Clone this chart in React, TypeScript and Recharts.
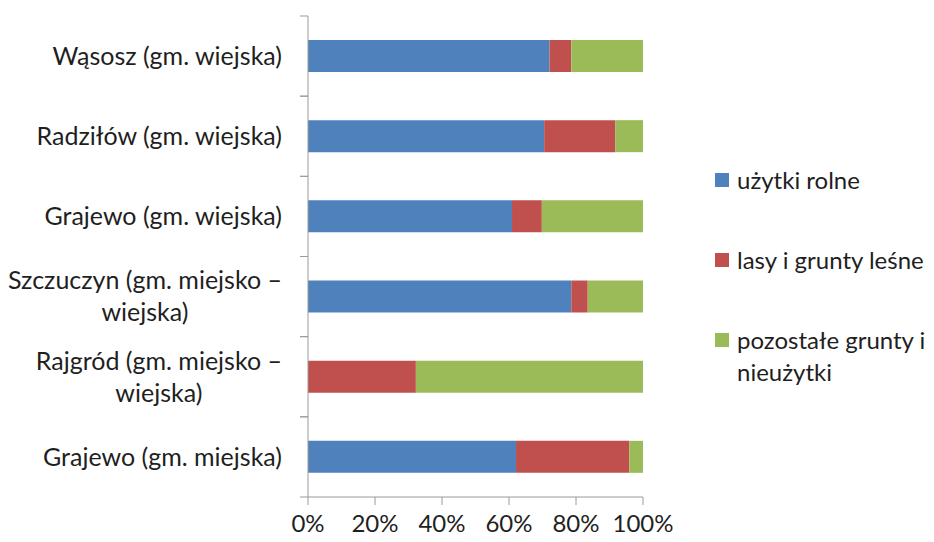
import React from 'react';
import { BarChart, Bar, XAxis, YAxis } from 'recharts';

const categories = [
  'Wąsosz (gm. wiejska)',
  'Radziłów (gm. wiejska)',
  'Grajewo (gm. wiejska)',
  'Szczuczyn (gm. miejsko – wiejska)',
  'Rajgród (gm. miejsko – wiejska)',
  'Grajewo (gm. miejska)',
];
const uzytkiRolne = [72.1, 70.5, 60.9, 78.6, 0, 62.1];
const lasy = [6.5, 21.2, 8.9, 4.9, 32.2, 33.8];
const pozostale = [21.4, 8.3, 30.2, 16.5, 67.8, 4.1];
const xTicks = [0, 0.2, 0.4, 0.6, 0.8, 1];

const series = [
  { key: 'uzytki', name: 'użytki rolne', color: '#4F81BD' },
  { key: 'lasy', name: 'lasy i grunty leśne', color: '#C0504D' },
  { key: 'pozostale', name: 'pozostałe grunty i nieużytki', color: '#9BBB59' },
];

const data = categories.map((name, i) => ({
  name,
  uzytki: uzytkiRolne[i],
  lasy: lasy[i],
  pozostale: pozostale[i],
}));

const FONT = 'Lato, "Open Sans", sans-serif';
const FONT_SIZE = 25;
const W = 926;
const H = 534;
const MARGIN = { top: 8, right: 291, bottom: 0, left: 0 };
const Y_WIDTH = 300;
const X_HEIGHT = 45;
const AXIS_X = MARGIN.left + Y_WIDTH;
const BAND = (H - MARGIN.top - MARGIN.bottom - X_HEIGHT) / categories.length;
const AXIS_COLOR = '#9a9a9a';
const TEXT_COLOR = '#1f1f1f';

let ctx: CanvasRenderingContext2D | null = null;
const measure = (s: string) => {
  if (!ctx) ctx = document.createElement('canvas').getContext('2d');
  if (!ctx) return s.length * FONT_SIZE * 0.45;
  ctx.font = `${FONT_SIZE}px Lato`;
  return ctx.measureText(s).width;
};

const wrap = (text: string, maxW: number) => {
  const words = text.split(' ');
  const lines: string[] = [];
  let cur = '';
  words.forEach(w => {
    const next = cur ? cur + ' ' + w : w;
    if (cur && measure(next) > maxW) {
      lines.push(cur);
      cur = w;
    } else {
      cur = next;
    }
  });
  if (cur) lines.push(cur);
  return lines;
};

const YTick = (props: any) => {
  const { y, payload } = props;
  const lines = wrap(payload.value, 288);
  const right = AXIS_X - 26;
  const lh = 32;
  const widest = Math.max(...lines.map(measure));
  const single = lines.length === 1;
  return (
    <g>
      <line x1={AXIS_X - 8} x2={AXIS_X} y1={y - BAND / 2} y2={y - BAND / 2} stroke={AXIS_COLOR} />
      <line x1={AXIS_X - 8} x2={AXIS_X} y1={y + BAND / 2} y2={y + BAND / 2} stroke={AXIS_COLOR} />
      {lines.map((l, i) => (
        <text
          key={i}
          x={single ? right : right - widest / 2}
          y={y + (i - (lines.length - 1) / 2) * lh}
          dy="0.35em"
          textAnchor={single ? 'end' : 'middle'}
          fill={TEXT_COLOR}
          fontSize={FONT_SIZE}
          fontFamily={FONT}
        >
          {l}
        </text>
      ))}
    </g>
  );
};

const legendLines = [['użytki rolne'], ['lasy i grunty leśne'], ['pozostałe grunty i', 'nieużytki']];
const legendTops = [156, 236, 316];

export default function App() {
  return (
    <div style={{ position: 'relative', width: W, height: H, fontFamily: FONT }}>
      <BarChart width={W} height={H} data={data} layout="vertical" stackOffset="expand" margin={MARGIN} barSize={32}>
        <XAxis
          type="number"
          domain={[0, 1]}
          ticks={xTicks}
          tickFormatter={(v: number) => `${Math.round(v * 100)}%`}
          height={X_HEIGHT}
          tickSize={8}
          tickMargin={10}
          stroke={AXIS_COLOR}
          tick={{ fill: TEXT_COLOR, fontSize: 24, fontFamily: FONT }}
        />
        <YAxis
          type="category"
          dataKey="name"
          width={Y_WIDTH}
          tickLine={false}
          stroke={AXIS_COLOR}
          tick={<YTick />}
          interval={0}
        />
        {series.map(s => (
          <Bar key={s.key} dataKey={s.key} name={s.name} stackId="a" fill={s.color} isAnimationActive={false} />
        ))}
      </BarChart>
      {series.map((s, i) => (
        <div
          key={s.key}
          style={{
            position: 'absolute',
            left: 707,
            top: legendTops[i],
            fontSize: 24,
            lineHeight: '32px',
            color: TEXT_COLOR,
          }}
        >
          <span
            style={{
              position: 'absolute',
              left: 0,
              top: 9,
              width: 14,
              height: 14,
              background: s.color,
            }}
          />
          {legendLines[i].map((l, j) => (
            <div key={j} style={{ marginLeft: 22, whiteSpace: 'nowrap' }}>
              {l}
            </div>
          ))}
        </div>
      ))}
    </div>
  );
}
